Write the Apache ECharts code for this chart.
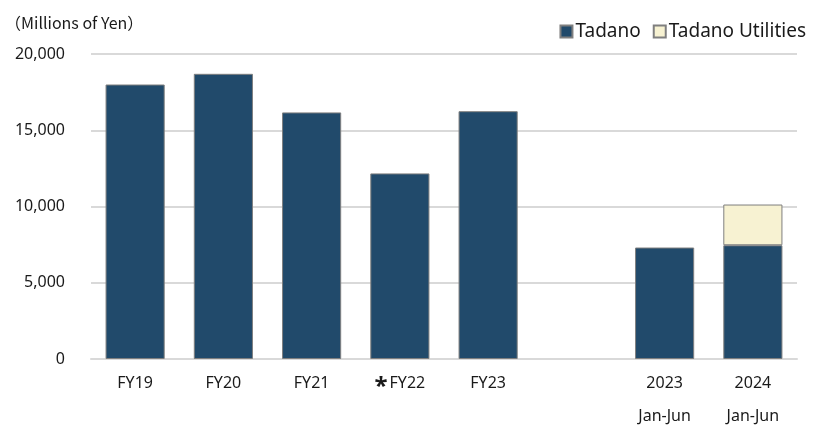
<!DOCTYPE html>
<html>
<head>
<meta charset="utf-8">
<script src="https://cdn.jsdelivr.net/npm/echarts@6/dist/echarts.min.js"></script>
<style>html,body{margin:0;padding:0;background:#fff}#c{width:815px;height:426px}</style>
</head>
<body>
<div id="c"></div>
<script>
const categories = ['FY19', 'FY20', 'FY21', '*FY22', 'FY23', '', '2023\nJan-Jun', '2024\nJan-Jun'];
const tadano = [18000, 18700, 16170, 12170, 16250, null, 7310, 7460];
const utilities = [null, null, null, null, null, null, null, 2670];
const yTicks = [0, 5000, 10000, 15000, 20000];

const FONT = '"Noto Sans", "Open Sans", sans-serif';
const chart = echarts.init(document.getElementById('c'));
chart.setOption({
  animation: false,
  backgroundColor: '#fff',
  title: {
    text: '（Millions of Yen）',
    left: 0, top: 10,
    textStyle: { fontFamily: '"Noto Sans CJK JP", "Noto Sans", sans-serif', fontSize: 16, fontWeight: 'normal', color: '#1a1a1a' }
  },
  legend: {
    right: 4, top: 17,
    itemWidth: 12, itemHeight: 12, itemGap: 12,
    icon: 'rect',
    textStyle: { fontFamily: FONT, fontSize: 19, color: '#1a1a1a', padding: [0, 0, 0, -2] },
    data: ['Tadano', 'Tadano Utilities']
  },
  grid: { left: 91, right: 18, top: 54, bottom: 67, containLabel: false, outerBoundsMode: 'none' },
  xAxis: {
    type: 'category',
    data: categories,
    axisLine: { show: true, lineStyle: { color: '#d9d9d9', width: 2 } },
    axisTick: { show: false },
    axisLabel: {
      fontFamily: FONT, fontSize: 16, color: '#1a1a1a',
      margin: 8, lineHeight: 33, interval: 0,
      formatter: v => v.charAt(0) === '*' ? '{ast|*}{n|' + v.slice(1) + '}' : v,
      rich: {
        ast: { fontFamily: FONT, fontSize: 24, fontWeight: 'bold', color: '#1a1a1a', padding: [7, 2, 0, 0], lineHeight: 33 },
        n: { fontFamily: FONT, fontSize: 16, color: '#1a1a1a', lineHeight: 33 }
      }
    }
  },
  yAxis: {
    type: 'value',
    min: 0, max: 20000, interval: 5000,
    axisLine: { show: false },
    axisTick: { show: false },
    splitLine: { lineStyle: { color: '#d9d9d9', width: 2 } },
    axisLabel: {
      fontFamily: FONT, fontSize: 16, color: '#1a1a1a', margin: 26,
      formatter: v => yTicks.includes(v) ? v.toLocaleString('en-US') : ''
    }
  },
  series: [
    {
      name: 'Tadano', type: 'bar', stack: 'a', data: tadano,
      barWidth: '67%',
      itemStyle: { color: '#214a6b', borderColor: '#7f7f7f', borderWidth: 1 }
    },
    {
      name: 'Tadano Utilities', type: 'bar', stack: 'a', data: utilities,
      barWidth: '67%',
      itemStyle: { color: '#f7f2d2', borderColor: '#7f7f7f', borderWidth: 1 }
    }
  ]
});
</script>
</body>
</html>
